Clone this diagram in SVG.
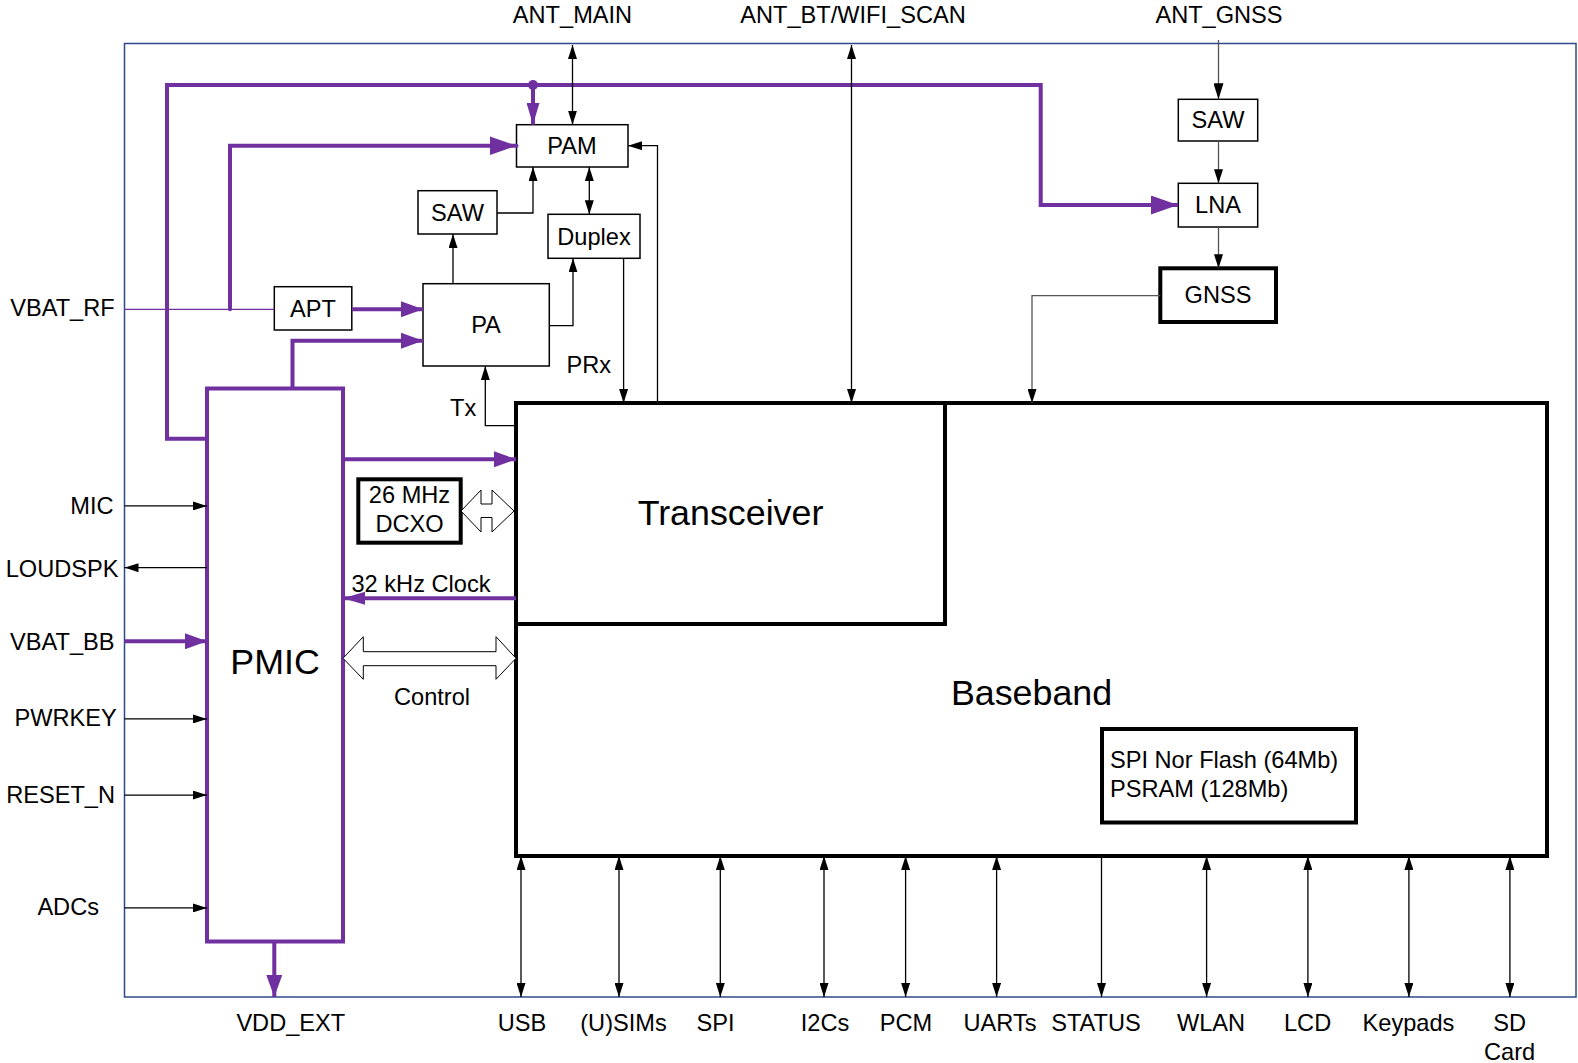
<svg xmlns="http://www.w3.org/2000/svg" width="1578" height="1063" viewBox="0 0 1578 1063">
<defs>
<style>
text{font-family:"Liberation Sans",Arial,sans-serif;font-size:23.6px;fill:#000}
.m{text-anchor:middle}
.e{text-anchor:end}
.big{font-size:35.8px}
.box{fill:#fff;stroke:#000;stroke-width:1.5}
.tbox{fill:#fff;stroke:#000;stroke-width:4}
.ln{fill:none;stroke:#000;stroke-width:1.3}
.gl{fill:none;stroke:#555;stroke-width:1.3}
.pp{fill:none;stroke:#7030A0;stroke-width:4}
.hol{fill:#fff;stroke:#000;stroke-width:1}
</style>
<marker id="aB" markerUnits="userSpaceOnUse" viewBox="0 0 14 9" refX="14" refY="4.5" markerWidth="14" markerHeight="9" orient="auto-start-reverse"><path d="M0,0 L14,4.5 L0,9 z" fill="#000"/></marker>
<marker id="aG" markerUnits="userSpaceOnUse" viewBox="0 0 16 10" refX="16" refY="5" markerWidth="16" markerHeight="10" orient="auto-start-reverse"><path d="M0,0 L16,5 L0,10 z" fill="#000"/></marker>
<marker id="pL" markerUnits="userSpaceOnUse" viewBox="0 0 27 19" refX="27" refY="9.5" markerWidth="27" markerHeight="19" orient="auto"><path d="M0,0 L27,9.5 L0,19 z" fill="#7030A0"/></marker>
<marker id="pS" markerUnits="userSpaceOnUse" viewBox="0 0 22 16" refX="22" refY="8" markerWidth="22" markerHeight="16" orient="auto"><path d="M0,0 L22,8 L0,16 z" fill="#7030A0"/></marker>
<marker id="pN" markerUnits="userSpaceOnUse" viewBox="0 0 22 13" refX="22" refY="6.5" markerWidth="22" markerHeight="13" orient="auto"><path d="M0,0 L22,6.5 L0,13 z" fill="#7030A0"/></marker>
</defs>
<rect width="1578" height="1063" fill="#fff"/>
<rect id="frame" x="124.5" y="43.5" width="1451.5" height="953.5" fill="none" stroke="#2F4A8A" stroke-width="1.5"/>

<g id="baseband"><rect class="tbox" x="516" y="403" width="1031" height="453"/><text class="big m" x="1031.5" y="705">Baseband</text></g>
<g id="transceiver"><rect class="tbox" x="516" y="403" width="429" height="221"/><text class="big m" x="730.5" y="525">Transceiver</text></g>
<g id="flash"><rect class="tbox" x="1102" y="729" width="254" height="93.5"/><text x="1110" y="768">SPI Nor Flash (64Mb)</text><text x="1110" y="797">PSRAM (128Mb)</text></g>
<g id="pmic"><rect x="207" y="388.5" width="136" height="553" fill="#fff" stroke="#7030A0" stroke-width="4"/><text class="big m" x="275" y="674">PMIC</text></g>
<g id="pam"><rect class="box" x="516.5" y="124.7" width="111.5" height="42.3"/><text class="m" x="572" y="154">PAM</text></g>
<g id="saw_rf"><rect class="box" x="418" y="190.7" width="79" height="43.3"/><text class="m" x="457.5" y="220.5">SAW</text></g>
<g id="duplex"><rect class="box" x="548" y="214.3" width="92" height="44"/><text class="m" x="594" y="244.5">Duplex</text></g>
<g id="apt"><rect class="box" x="274.3" y="286.7" width="77.5" height="43.3"/><text class="m" x="313" y="316.5">APT</text></g>
<g id="pa"><rect class="box" x="423" y="283.7" width="126.3" height="82.3"/><text class="m" x="486" y="333">PA</text></g>
<g id="saw_gnss"><rect class="box" x="1178.3" y="99.3" width="79.4" height="41.7"/><text class="m" x="1218" y="128">SAW</text></g>
<g id="lna"><rect class="box" x="1178.3" y="183.3" width="79.4" height="43.7"/><text class="m" x="1218" y="213">LNA</text></g>
<g id="gnss"><rect class="tbox" x="1160.3" y="268.3" width="115.7" height="53.7" stroke-width="3.5"/><text class="m" x="1218" y="303">GNSS</text></g>
<g id="dcxo"><rect class="tbox" x="358.3" y="479.3" width="102.4" height="63.4" stroke-width="3.5"/><text class="m" x="409.5" y="503">26 MHz</text><text class="m" x="409.5" y="532">DCXO</text></g>

<g id="connectors">
<path class="pp" d="M207,438.8 H167 V85 H1040.7 V205 H1178" marker-end="url(#pL)"/>
<circle cx="533" cy="85" r="5" fill="#7030A0"/>
<path class="pp" d="M533,85 V124.7" marker-end="url(#pN)"/>
<path d="M124.5,309.3 H274.3" fill="none" stroke="#7030A0" stroke-width="1.3"/>
<path class="pp" d="M230,309.3 V145.7 H516.5" stroke-linecap="round" marker-end="url(#pL)"/>
<path class="pp" d="M351.8,309.3 H423" marker-end="url(#pS)"/>
<path class="pp" d="M292.5,388.5 V340.7 H423" marker-end="url(#pS)"/>
<path class="pp" d="M343,459.3 H516" marker-end="url(#pS)"/>
<path class="pp" d="M516,598.3 H343" marker-end="url(#pN)"/>
<path class="pp" d="M124.5,641.3 H207" marker-end="url(#pS)"/>
<path class="pp" d="M274.3,941.5 V997" marker-end="url(#pS)"/>
<path class="ln" d="M572.5,45 V124.7" marker-start="url(#aB)" marker-end="url(#aB)"/>
<path class="ln" d="M851.5,45 V403" marker-start="url(#aB)" marker-end="url(#aB)"/>
<path class="ln" d="M497,213 H533 V167" marker-end="url(#aB)"/>
<path class="ln" d="M589.3,167 V214.3" marker-start="url(#aB)" marker-end="url(#aB)"/>
<path class="ln" d="M453,283.7 V234" marker-end="url(#aB)"/>
<path class="ln" d="M549.3,325.7 H573 V258.3" marker-end="url(#aB)"/>
<path class="ln" d="M623.6,258.3 V403" marker-end="url(#aB)"/>
<path class="ln" d="M657.5,403 V145.7 H628" marker-end="url(#aB)"/>
<path class="ln" d="M516,425.7 H485.3 V366" marker-end="url(#aB)"/>
<path class="gl" d="M1218.5,40 V99.3" marker-end="url(#aG)"/>
<path class="gl" d="M1218.5,141 V183.3" marker-end="url(#aB)"/>
<path class="gl" d="M1218.5,227 V268.3" marker-end="url(#aB)"/>
<path class="gl" d="M1160.3,295.7 H1032 V403" marker-end="url(#aB)"/>
<polygon class="hol" points="461,511 481,490 481,504 492,504 492,490 514,511 492,532 492,517.5 481,517.5 481,532"/>
<polygon class="hol" points="343,658.3 363.3,636.7 363.3,651.7 496,651.7 496,636.7 516,658.3 496,679.3 496,665.7 363.3,665.7 363.3,679.3"/>
<path class="ln" d="M124.5,505.9 H207" marker-end="url(#aB)"/>
<path class="ln" d="M207,567.7 H124.5" marker-end="url(#aB)"/>
<path class="ln" d="M124.5,718.9 H207" marker-end="url(#aB)"/>
<path class="ln" d="M124.5,795.1 H207" marker-end="url(#aB)"/>
<path class="ln" d="M124.5,907.9 H207" marker-end="url(#aB)"/>
<path class="ln" d="M521,856 V997" marker-start="url(#aB)" marker-end="url(#aB)"/>
<path class="ln" d="M619,856 V997" marker-start="url(#aB)" marker-end="url(#aB)"/>
<path class="ln" d="M720.3,856 V997" marker-start="url(#aB)" marker-end="url(#aB)"/>
<path class="ln" d="M824,856 V997" marker-start="url(#aB)" marker-end="url(#aB)"/>
<path class="ln" d="M905.6,856 V997" marker-start="url(#aB)" marker-end="url(#aB)"/>
<path class="ln" d="M996.6,856 V997" marker-start="url(#aB)" marker-end="url(#aB)"/>
<path class="ln" d="M1101.5,856 V997" marker-end="url(#aB)"/>
<path class="ln" d="M1206.6,856 V997" marker-start="url(#aB)" marker-end="url(#aB)"/>
<path class="ln" d="M1307.9,856 V997" marker-start="url(#aB)" marker-end="url(#aB)"/>
<path class="ln" d="M1408.9,856 V997" marker-start="url(#aB)" marker-end="url(#aB)"/>
<path class="ln" d="M1509.9,856 V997" marker-start="url(#aB)" marker-end="url(#aB)"/>
</g>

<g id="labels">
<text class="m" x="572.5" y="23">ANT_MAIN</text>
<text class="m" x="853" y="23">ANT_BT/WIFI_SCAN</text>
<text class="m" x="1219" y="23">ANT_GNSS</text>
<text class="e" x="114.7" y="316">VBAT_RF</text>
<text class="e" x="113.5" y="514">MIC</text>
<text class="e" x="118.5" y="576.5">LOUDSPK</text>
<text class="e" x="114.5" y="650">VBAT_BB</text>
<text class="e" x="116.7" y="726">PWRKEY</text>
<text class="e" x="115" y="803">RESET_N</text>
<text class="e" x="99" y="915">ADCs</text>
<text class="m" x="290.8" y="1031">VDD_EXT</text>
<text x="450" y="416">Tx</text>
<text x="566.5" y="373">PRx</text>
<text x="351.5" y="591.5">32 kHz Clock</text>
<text class="m" x="432" y="704.5">Control</text>
<text class="m" x="522" y="1031">USB</text>
<text class="m" x="623.5" y="1031">(U)SIMs</text>
<text class="m" x="715.5" y="1031">SPI</text>
<text class="m" x="825" y="1031">I2Cs</text>
<text class="m" x="906" y="1031">PCM</text>
<text class="m" x="1000" y="1031">UARTs</text>
<text class="m" x="1096" y="1031">STATUS</text>
<text class="m" x="1211" y="1031">WLAN</text>
<text class="m" x="1307.6" y="1031">LCD</text>
<text class="m" x="1408.5" y="1031">Keypads</text>
<text class="m" x="1509.6" y="1031">SD</text>
<text class="m" x="1509.6" y="1059.5">Card</text>
</g>
</svg>
